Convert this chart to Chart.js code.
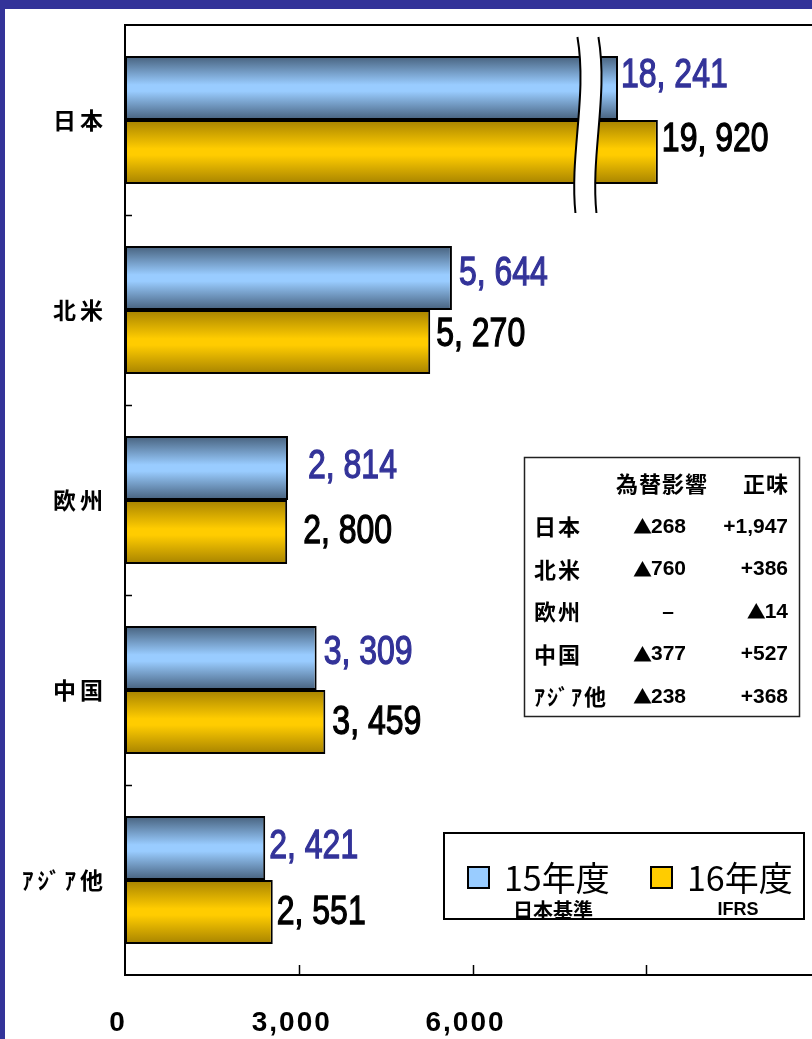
<!DOCTYPE html>
<html><head><meta charset="utf-8">
<script src="https://cdn.jsdelivr.net/npm/chart.js@4.4.0/dist/chart.umd.min.js"></script>
<style>
html,body{margin:0;padding:0;background:#fff;overflow:hidden;width:812px;height:1039px;}
#wrap{position:relative;width:812px;height:1039px;overflow:hidden;}
#c{position:absolute;left:0;top:0;}
.frameTop{position:absolute;left:0;top:0;width:812px;height:9px;background:#333399;}
.frameLeft{position:absolute;left:0;top:0;width:5px;height:1039px;background:#333399;}
</style></head><body>
<div id="wrap"><canvas id="c" width="830" height="1039" style="width:830px;height:1039px"></canvas><div class="frameTop"></div><div class="frameLeft"></div></div>
<script>
// ---- data ----
const categories = ['日本', '北米', '欧州', '中国', 'ｱｼﾞｱ他'];
const seriesNames = ['15年度', '16年度'];
const seriesNotes = ['日本基準', 'IFRS'];
const sales15 = [18241, 5644, 2814, 3309, 2421];
const sales16 = [19920, 5270, 2800, 3459, 2551];
const xTickLabels = ['0', '3,000', '6,000', '', ''];
const tableHeaders = ['為替影響', '正味'];
const fxImpact = ['▲268', '▲760', '–', '▲377', '▲238'];
const netChange = ['+1,947', '+386', '▲14', '+527', '+368'];

// broken axis: values beyond the break are shown compressed
const axisBreak = { from: 7950, to: 16870, compress: 0.41 };
function toAxis(v) { return v > axisBreak.from ? axisBreak.from + (v - axisBreak.to) * axisBreak.compress : v; }

// ---- styles ----
const BLUE_DARK = '#46607c', BLUE_LIGHT = '#99ccff';
const GOLD_DARK = '#a68200', GOLD_LIGHT = '#ffcc00';
const NAVY = '#333399';
const CAT_PCT = 0.674;
const labelGap = [[4, 8, 21, 8, 5], [5, 7, 17, 8, 5]];
const labelDy = [[-12, -4, -1, -5, -1], [-12, -7, 0, 1, 1]];
const labelColors = [NAVY, '#000'];

function barGradient(c, dark, light) {
  const chart = c.chart; const ys = chart.scales && chart.scales.y;
  if (!ys || !chart.chartArea || !ys.height) return light;
  const band = ys.height / categories.length; const th = band * CAT_PCT / 2;
  const yc = ys.getPixelForValue(c.dataIndex);
  const top = c.datasetIndex === 0 ? yc - th : yc;
  const g = chart.ctx.createLinearGradient(0, top, 0, top + th);
  g.addColorStop(0, dark); g.addColorStop(0.45, light); g.addColorStop(0.55, light); g.addColorStop(1, dark);
  return g;
}
function fmt(v) { return v.toLocaleString('en-US').replace(',', ', '); }

const spacingPlugin = {
  id: 'spacing',
  beforeDraw(chart) {
    [['x', '2px'], ['y', '4px']].forEach(([id, sp]) => {
      const s = chart.scales[id];
      if (s && !s._spPatched) {
        const orig = s.drawLabels;
        s.drawLabels = function (a) { const c = this.ctx; c.letterSpacing = sp; orig.call(this, a); c.letterSpacing = '0px'; };
        s._spPatched = true;
      }
    });
  }
};

const framePlugin = {
  id: 'frame',
  afterDraw(chart) {
    const ctx = chart.ctx, a = chart.chartArea, xs = chart.scales.x, ys = chart.scales.y;
    ctx.save();
    ctx.strokeStyle = '#000'; ctx.lineWidth = 2;
    ctx.beginPath(); ctx.moveTo(a.left - 1, a.top); ctx.lineTo(chart.width, a.top); ctx.stroke();
    ctx.lineWidth = 1.5;
    for (let i = 1; i < categories.length; i++) {
      const y = Math.round((ys.getPixelForValue(i - 1) + ys.getPixelForValue(i)) / 2) + 0.5;
      ctx.beginPath(); ctx.moveTo(a.left, y); ctx.lineTo(a.left + 7, y); ctx.stroke();
    }
    xs.ticks.forEach(t => {
      if (t.value <= 0) return;
      const x = Math.round(xs.getPixelForValue(t.value)) + 0.5;
      ctx.beginPath(); ctx.moveTo(x, a.bottom); ctx.lineTo(x, a.bottom - 10); ctx.stroke();
    });
    ctx.restore();
  }
};

const breakPlugin = {
  id: 'breakMark',
  afterDatasetsDraw(chart) {
    const ctx = chart.ctx, xs = chart.scales.x, ys = chart.scales.y;
    const xc = xs.getPixelForValue(axisBreak.from) + 2;
    const band = ys.height / categories.length;
    const yT = ys.getPixelForValue(0) - band / 2 + 12, yB = ys.getPixelForValue(0) + band / 2 - 2;
    const h = yB - yT, d = 21;
    const L = (dx) => [[xc - 10 + dx, yT], [xc + 0 + dx, yT + h / 3], [xc - 18 + dx, yT + 2 * h / 3], [xc - 12 + dx, yB]];
    const l = L(0), r = L(d);
    ctx.save();
    ctx.fillStyle = '#fff';
    ctx.beginPath();
    ctx.moveTo(l[0][0], l[0][1]);
    ctx.bezierCurveTo(l[1][0], l[1][1], l[2][0], l[2][1], l[3][0], l[3][1]);
    ctx.lineTo(r[3][0], r[3][1]);
    ctx.bezierCurveTo(r[2][0], r[2][1], r[1][0], r[1][1], r[0][0], r[0][1]);
    ctx.closePath(); ctx.fill();
    ctx.strokeStyle = '#000'; ctx.lineWidth = 2;
    [l, r].forEach(p => {
      ctx.beginPath(); ctx.moveTo(p[0][0], p[0][1]);
      ctx.bezierCurveTo(p[1][0], p[1][1], p[2][0], p[2][1], p[3][0], p[3][1]); ctx.stroke();
    });
    ctx.restore();
  }
};

const valueLabelPlugin = {
  id: 'valueLabels',
  afterDatasetsDraw(chart) {
    const ctx = chart.ctx; const raws = [sales15, sales16];
    [0, 1].forEach(ds => {
      chart.getDatasetMeta(ds).data.forEach((bar, i) => {
        ctx.save();
        ctx.font = "40px 'Liberation Sans', Arial, sans-serif";
        ctx.fillStyle = labelColors[ds]; ctx.strokeStyle = labelColors[ds]; ctx.lineWidth = 1.3;
        ctx.textBaseline = 'middle'; ctx.textAlign = 'left';
        ctx.translate(bar.x + labelGap[ds][i] - 1, bar.y + labelDy[ds][i]);
        ctx.scale(0.8, 1);
        const t = fmt(raws[ds][i]);
        ctx.fillText(t, 0, 0); ctx.strokeText(t, 0, 0);
        ctx.restore();
      });
    });
  }
};

// draw text where a leading ▲ uses a larger symbol font
function drawMixed(ctx, txt, x, y, align) {
  const num = "bold 21px 'Liberation Sans', Arial, sans-serif";
  const sym = "bold 19px 'Noto Sans CJK JP', 'DejaVu Sans', sans-serif";
  let head = '', rest = txt;
  if (txt.startsWith('▲')) { head = '▲'; rest = txt.slice(1); }
  ctx.font = sym; const wh = head ? ctx.measureText(head).width - 2 : 0;
  ctx.font = num; const wr = ctx.measureText(rest).width;
  const w = wh + wr;
  let x0 = align === 'right' ? x - w : align === 'center' ? x - w / 2 : x;
  ctx.textAlign = 'left';
  if (head) { ctx.font = sym; ctx.fillText(head, x0 - 1, y); }
  ctx.font = num; ctx.fillText(rest, x0 + wh, y);
}

const tablePlugin = {
  id: 'fxTable',
  afterDraw(chart) {
    const ctx = chart.ctx;
    ctx.save();
    ctx.fillStyle = '#fff'; ctx.fillRect(524, 457, 276, 260);
    ctx.strokeStyle = '#222'; ctx.lineWidth = 1.5; ctx.strokeRect(524.5, 457.5, 275, 259);
    ctx.fillStyle = '#000'; ctx.textBaseline = 'middle';
    const cjk = "bold 22px 'Noto Sans CJK JP', sans-serif";
    ctx.font = cjk; ctx.letterSpacing = '1px';
    ctx.textAlign = 'center'; ctx.fillText(tableHeaders[0], 662, 484);
    ctx.textAlign = 'right'; ctx.fillText(tableHeaders[1], 789, 484);
    categories.forEach((c, i) => {
      const y = 527 + i * 42.5;
      ctx.font = cjk; ctx.letterSpacing = '2px'; ctx.textAlign = 'left'; ctx.fillText(c, 534, y);
      ctx.letterSpacing = '0px';
      drawMixed(ctx, fxImpact[i], fxImpact[i] === '–' ? 668 : 660, y, 'center');
      drawMixed(ctx, netChange[i], 788, y, 'right');
    });
    ctx.restore();
  }
};

const legendPlugin = {
  id: 'customLegend',
  afterDraw(chart) {
    const ctx = chart.ctx;
    ctx.save();
    ctx.fillStyle = '#fff'; ctx.fillRect(443, 832, 362, 88);
    ctx.strokeStyle = '#000'; ctx.lineWidth = 2; ctx.strokeRect(444, 833, 360, 86);
    const items = [
      { sx: 468, tx: 504, nx: 553, col: BLUE_LIGHT, nf: "bold 20px 'Noto Sans CJK JP', sans-serif" },
      { sx: 651, tx: 687, nx: 738, col: GOLD_LIGHT, nf: "bold 18px 'Liberation Sans', Arial, sans-serif" }
    ];
    items.forEach((it, k) => {
      ctx.fillStyle = it.col; ctx.fillRect(it.sx, 867, 21, 21);
      ctx.lineWidth = 2; ctx.strokeStyle = '#000'; ctx.strokeRect(it.sx, 867, 21, 21);
      ctx.fillStyle = '#000'; ctx.textBaseline = 'middle'; ctx.textAlign = 'left';
      ctx.font = "34px 'Noto Sans CJK JP', sans-serif";
      ctx.fillText(seriesNames[k], it.tx, 878);
      ctx.font = it.nf; ctx.textAlign = 'center';
      ctx.fillText(seriesNotes[k], it.nx, 910);
    });
    ctx.restore();
  }
};

const chart = new Chart(document.getElementById('c').getContext('2d'), {
  type: 'bar',
  data: {
    labels: categories,
    datasets: [
      { label: seriesNames[0], data: sales15.map(toAxis), backgroundColor: c => barGradient(c, BLUE_DARK, BLUE_LIGHT),
        borderColor: '#000', borderWidth: 2, borderSkipped: false, categoryPercentage: CAT_PCT, barPercentage: 1 },
      { label: seriesNames[1], data: sales16.map(toAxis), backgroundColor: c => barGradient(c, GOLD_DARK, GOLD_LIGHT),
        borderColor: '#000', borderWidth: 2, borderSkipped: false, categoryPercentage: CAT_PCT, barPercentage: 1 }
    ]
  },
  options: {
    indexAxis: 'y', responsive: false, animation: false,
    layout: { padding: { top: 25, left: 0, right: 10, bottom: 0 } },
    plugins: { legend: { display: false }, tooltip: { enabled: false } },
    scales: {
      x: {
        min: 0, max: 12000,
        ticks: { stepSize: 3000, autoSkip: false, maxRotation: 0, callback: (v, i) => xTickLabels[i] ?? '',
          font: { family: "'Liberation Sans', Arial, sans-serif", size: 28, weight: 'bold' }, color: '#000', padding: 31, labelOffset: -7 },
        grid: { display: false, drawTicks: false },
        border: { display: true, color: '#000', width: 2 },
        afterFit: s => { s.height = 64; s.paddingLeft = 0; s.paddingRight = 0; }
      },
      y: {
        ticks: { font: { family: "'Noto Sans CJK JP', sans-serif", size: 23, weight: 'bold' }, color: '#000', padding: 18 },
        grid: { display: false, drawTicks: false },
        border: { display: true, color: '#000', width: 2 },
        afterFit: s => { s.width = 125; s.paddingTop = 0; s.paddingBottom = 0; }
      }
    }
  },
  plugins: [spacingPlugin, breakPlugin, valueLabelPlugin, framePlugin, tablePlugin, legendPlugin]
});
chart.draw();
</script>
</body></html>
